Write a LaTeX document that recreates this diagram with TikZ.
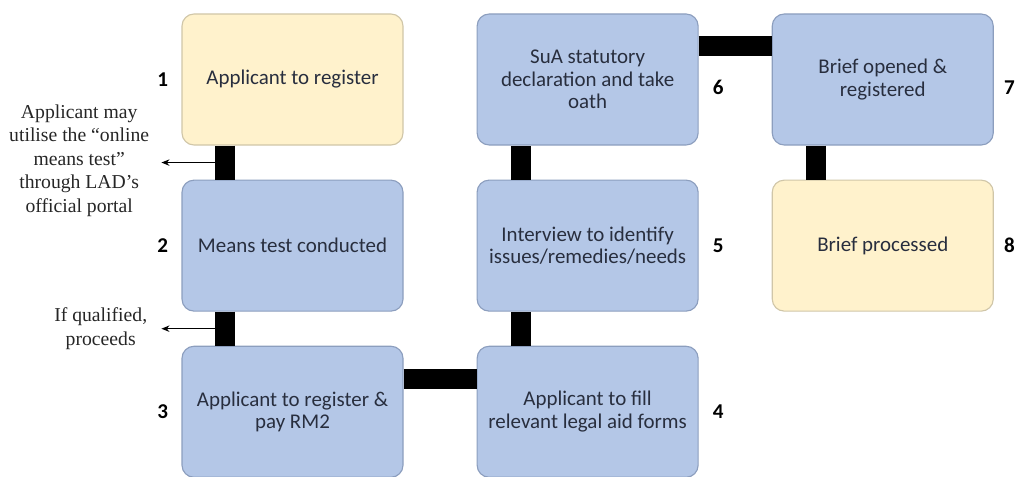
\documentclass[tikz,border=0pt]{standalone}
\usepackage{fontspec}
\setmainfont{Carlito}
\newfontfamily\notefont[Ligatures=TeX]{Liberation Serif}
\usetikzlibrary{arrows.meta, positioning}

\definecolor{boxblue}{RGB}{180,199,231}
\definecolor{blueedge}{RGB}{140,158,190}
\definecolor{boxyellow}{RGB}{255,242,204}
\definecolor{yellowedge}{RGB}{208,198,168}
\definecolor{boxtext}{RGB}{40,46,62}

\begin{document}
\begin{tikzpicture}[
    node distance=0.85cm and 1.825cm,
    box/.style={rectangle, rounded corners=0.3cm, draw=blueedge, fill=boxblue, line width=0.8pt,
        minimum width=5.525cm, minimum height=3.275cm, align=center, text=boxtext,
        font=\fontsize{14.9}{16}\selectfont},
    ybox/.style={box, draw=yellowedge, fill=boxyellow},
    num/.style={inner sep=0pt, font=\fontsize{15}{18}\selectfont\bfseries},
    note/.style={align=center, inner sep=0pt, text=black!85,
        font=\notefont\fontsize{14}{16.7}\selectfont},
    bar/.style={line width=0.5cm},
    every edge/.style={draw, -{Stealth[length=2mm, width=1.6mm]}, line width=0.8pt}
]
\useasboundingbox (0,0) rectangle (25.425,-11.925);

\node[ybox] (b1) at (7.3125,-1.9875) {Applicant to register};
\node[box] (b2) [below=of b1] {Means test conducted};
\node[box] (b3) [below=of b2] {Applicant to register \&\\ pay RM2};

\node[box] (b4) [right=of b3] {Applicant to fill\\ relevant legal aid forms};
\node[box] (b5) [above=of b4] {Interview to identify\\ issues/remedies/needs};
\node[box] (b6) [above=of b5] {SuA statutory\\ declaration and take\\ oath};

\node[box] (b7) [right=of b6] {Brief opened \&\\ registered};
\node[ybox] (b8) [below=of b7] {Brief processed};

% step numbers
\node[num, left=0.33cm of b1] (n1) {1};
\node[num, left=0.33cm of b2] (n2) {2};
\node[num, left=0.33cm of b3] (n3) {3};
\node[num, right=0.35cm of b4] (n4) {4};
\node[num, right=0.35cm of b5] (n5) {5};
\node[num, right=0.35cm of b6, yshift=-0.2cm] (n6) {6};
\node[num, right=0.25cm of b7, yshift=-0.2cm] (n7) {7};
\node[num, right=0.25cm of b8] (n8) {8};

% thick links
\draw[bar] ([xshift=1.1cm]b1.south west) -- ([xshift=1.1cm]b2.north west);
\draw[bar] ([xshift=1.1cm]b2.south west) -- ([xshift=1.1cm]b3.north west);
\draw[bar] ([yshift=-0.825cm]b3.north east) -- ([yshift=-0.825cm]b4.north west);
\draw[bar] ([xshift=1.1cm]b4.north west) -- ([xshift=1.1cm]b5.south west);
\draw[bar] ([xshift=1.1cm]b5.north west) -- ([xshift=1.1cm]b6.south west);
\draw[bar] ([yshift=-0.825cm]b6.north east) -- ([yshift=-0.825cm]b7.north west);
\draw[bar] ([xshift=1.1cm]b7.south west) -- ([xshift=1.1cm]b8.north west);

% side notes
\coordinate (a12) at ([xshift=0.85cm, yshift=-0.425cm]b1.south west);
\coordinate (t12) at ([xshift=-1.35cm]a12);
\coordinate (a23) at ([xshift=0.85cm, yshift=-0.425cm]b2.south west);
\coordinate (t23) at ([xshift=-1.35cm]a23);

\node[note, left=0.3cm of t12, yshift=0.05cm] (m1) {Applicant may\\ utilise the “online\\ means test”\\ through LAD’s\\ official portal};
\node[note, left=0.35cm of t23] (m2) {If qualified,\\ proceeds};

\draw (a12) edge (t12);
\draw (a23) edge (t23);

\end{tikzpicture}
\end{document}
